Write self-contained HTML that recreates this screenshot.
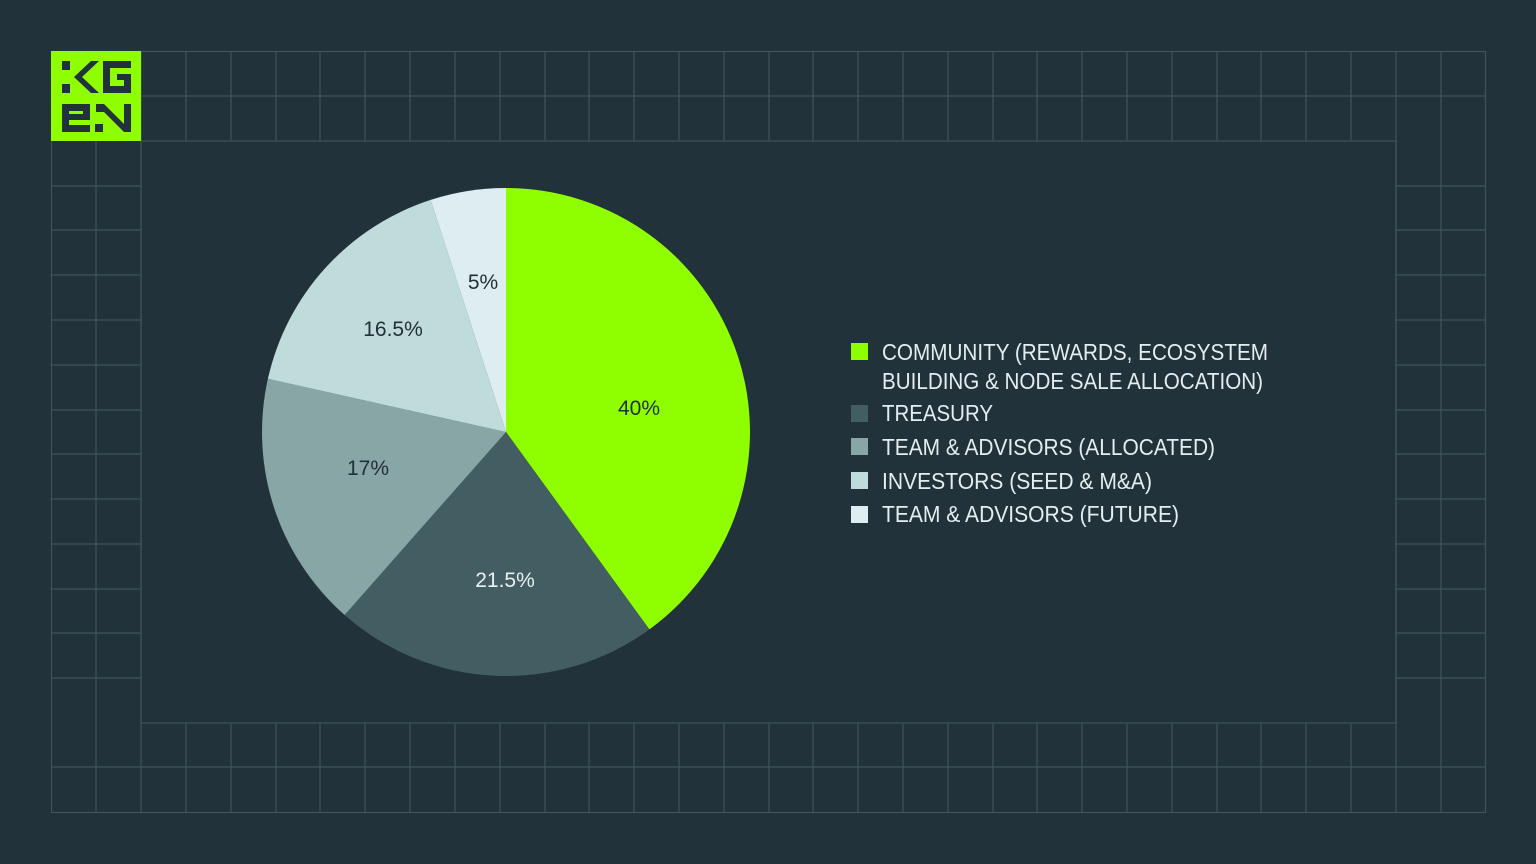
<!DOCTYPE html>
<html><head><meta charset="utf-8"><style>
html,body{margin:0;padding:0;background:#21323a;}
svg{display:block;}
</style></head><body>
<svg width="1536" height="864" viewBox="0 0 1536 864" xmlns="http://www.w3.org/2000/svg">
<rect width="1536" height="864" fill="#21323a"/>
<g stroke="#3e5558" stroke-width="1.2" fill="none">
<rect x="51.5" y="51.5" width="1434" height="761"/>
<rect x="141" y="141" width="1255" height="582"/>
<path id="g" d="
M96,51V812 M141,51V812 M1396,51V812 M1441,51V812
M186,51V141 M231,51V141 M276,51V141 M320,51V141 M365,51V141 M410,51V141 M455,51V141 M500,51V141 M545,51V141 M589,51V141 M634,51V141 M679,51V141 M724,51V141 M769,51V141 M813,51V141 M858,51V141 M903,51V141 M948,51V141 M993,51V141 M1037,51V141 M1082,51V141 M1127,51V141 M1172,51V141 M1217,51V141 M1261,51V141 M1306,51V141 M1351,51V141
M186,723V812 M231,723V812 M276,723V812 M320,723V812 M365,723V812 M410,723V812 M455,723V812 M500,723V812 M545,723V812 M589,723V812 M634,723V812 M679,723V812 M724,723V812 M769,723V812 M813,723V812 M858,723V812 M903,723V812 M948,723V812 M993,723V812 M1037,723V812 M1082,723V812 M1127,723V812 M1172,723V812 M1217,723V812 M1261,723V812 M1306,723V812 M1351,723V812
M51,96H1485 M51,767H1485
M51,186H141 M51,230H141 M51,275H141 M51,320H141 M51,365H141 M51,410H141 M51,454H141 M51,499H141 M51,544H141 M51,589H141 M51,633H141 M51,678H141
M1396,186H1485 M1396,230H1485 M1396,275H1485 M1396,320H1485 M1396,365H1485 M1396,410H1485 M1396,454H1485 M1396,499H1485 M1396,544H1485 M1396,589H1485 M1396,633H1485 M1396,678H1485"/>
</g>
<!-- logo -->
<rect x="51" y="51" width="90" height="90" fill="#8fff00"/>
<g fill="#21323a">
<rect x="62" y="61" width="8" height="9"/>
<rect x="62" y="84" width="8" height="9"/>
<path d="M91,61 L99,61 L82,77 L99,93 L91,93 L74,77 Z"/>
<path d="M103,61 H131 V68 H110 V86 H124 V80 H117 V74 H131 V93 H103 Z"/>
<path d="M62,104 H90 V120 H69 V125 H90 V132 H62 Z M69,111 V114 H83 V111 Z"/>
<rect x="95" y="124" width="8" height="8"/>
<path d="M96,104 H104 L124,124 V104 H131 V132 H124 L104,112 H96 Z"/>
</g>
<!-- pie -->
<g>
<path d="M506,432 L506,188 A244,244 0 0 1 649.4,629.4 Z" fill="#8fff00"/>
<path d="M506,432 L649.4,629.4 A244,244 0 0 1 344.6,615 Z" fill="#435e62"/>
<path d="M506,432 L344.6,615 A244,244 0 0 1 267.9,378.8 Z" fill="#88a6a5"/>
<path d="M506,432 L267.9,378.8 A244,244 0 0 1 430.6,199.9 Z" fill="#bfdbda"/>
<path d="M506,432 L430.6,199.9 A244,244 0 0 1 506,188 Z" fill="#ddedf0"/>
</g>
<g font-family="Liberation Sans, sans-serif" font-size="21" text-anchor="middle">
<text x="639" y="415" fill="#213038">40%</text>
<text x="505" y="587" fill="#e8f0f0">21.5%</text>
<text x="368" y="475" fill="#213038">17%</text>
<text x="393" y="336" fill="#213038">16.5%</text>
<text x="483" y="289" fill="#213038">5%</text>
</g>
<!-- legend -->
<rect x="851" y="343" width="17" height="17" fill="#8fff00"/>
<rect x="851" y="405" width="17" height="17" fill="#435e62"/>
<rect x="851" y="438" width="17" height="17" fill="#88a6a5"/>
<rect x="851" y="472" width="17" height="17" fill="#bfdbda"/>
<rect x="851" y="506" width="17" height="17" fill="#ddedf0"/>
<g font-family="Liberation Sans, sans-serif" font-size="23" fill="#e4eef0">
<text x="882" y="360" textLength="386" lengthAdjust="spacingAndGlyphs">COMMUNITY (REWARDS, ECOSYSTEM</text>
<text x="882" y="389" textLength="381" lengthAdjust="spacingAndGlyphs">BUILDING &amp; NODE SALE ALLOCATION)</text>
<text x="882" y="421" textLength="111" lengthAdjust="spacingAndGlyphs">TREASURY</text>
<text x="882" y="455" textLength="333" lengthAdjust="spacingAndGlyphs">TEAM &amp; ADVISORS (ALLOCATED)</text>
<text x="882" y="489" textLength="270" lengthAdjust="spacingAndGlyphs">INVESTORS (SEED &amp; M&amp;A)</text>
<text x="882" y="522" textLength="297" lengthAdjust="spacingAndGlyphs">TEAM &amp; ADVISORS (FUTURE)</text>
</g>
</svg>
</body></html>
